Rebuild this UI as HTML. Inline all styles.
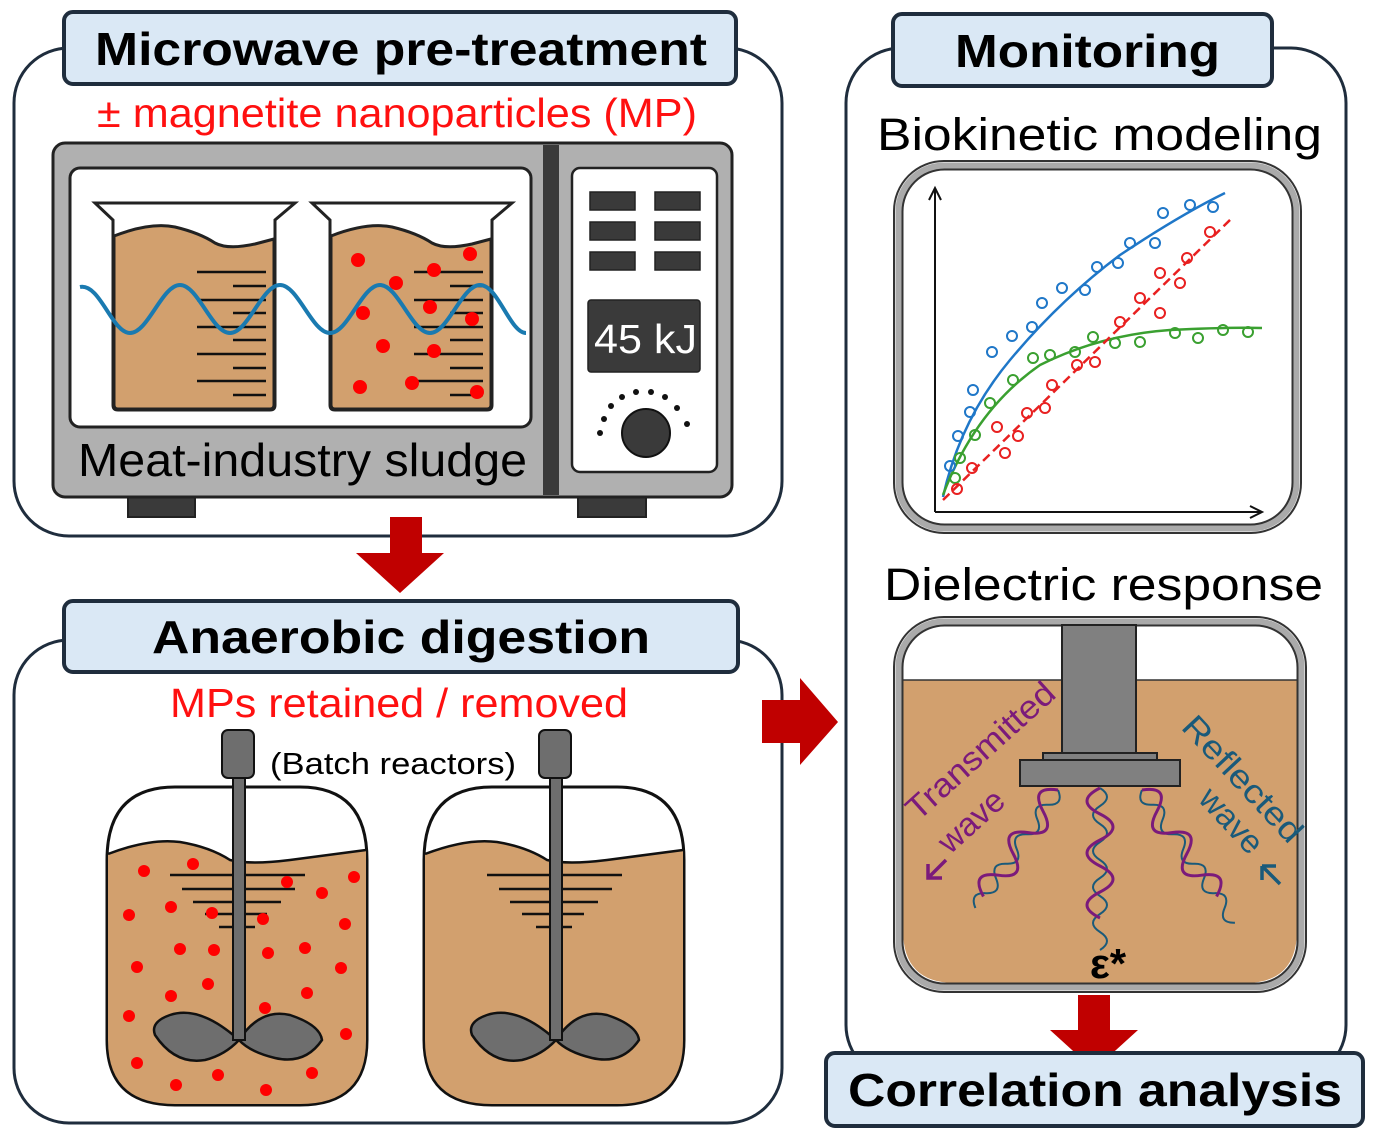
<!DOCTYPE html>
<html><head><meta charset="utf-8"><style>
html,body{margin:0;padding:0;background:#fff}
svg{display:block}
text{font-family:"Liberation Sans",Arial,sans-serif}
</style></head><body>
<svg width="1377" height="1139" viewBox="0 0 1377 1139" xmlns="http://www.w3.org/2000/svg">
<!-- Panel 1 -->
<rect x="14" y="48" width="768" height="488" rx="55" fill="#fff" stroke="#1f2d3d" stroke-width="3"/>
<rect x="64" y="12" width="672" height="72" rx="9" fill="#dae8f5" stroke="#1f2d3d" stroke-width="4"/>
<text x="95" y="65" font-size="46" font-weight="bold" textLength="612" lengthAdjust="spacingAndGlyphs">Microwave pre-treatment</text>
<text x="97" y="127" font-size="41" fill="#ff1010" textLength="600" lengthAdjust="spacingAndGlyphs">± magnetite nanoparticles (MP)</text>
<!-- microwave -->
<rect x="128" y="495" width="67" height="22" fill="#3a3a3a" stroke="#222" stroke-width="2"/>
<rect x="578" y="495" width="68" height="22" fill="#3a3a3a" stroke="#222" stroke-width="2"/>
<rect x="53" y="143" width="679" height="354" rx="12" fill="#b0b0b0" stroke="#222" stroke-width="3"/>
<rect x="70" y="168" width="461" height="259" rx="10" fill="#fff" stroke="#222" stroke-width="3"/>
<rect x="543" y="145" width="16" height="350" fill="#3a3a3a"/>
<rect x="572" y="168" width="145" height="304" rx="8" fill="#fff" stroke="#222" stroke-width="2.5"/>
<g fill="#3a3a3a" stroke="#222" stroke-width="1.5">
<rect x="590" y="192" width="45" height="18"/><rect x="655" y="192" width="45" height="18"/>
<rect x="590" y="222" width="45" height="18"/><rect x="655" y="222" width="45" height="18"/>
<rect x="590" y="252" width="45" height="18"/><rect x="655" y="252" width="45" height="18"/>
<rect x="588" y="300" width="112" height="72" rx="3"/>
</g>
<text x="594" y="353" font-size="41" fill="#fff" textLength="103" lengthAdjust="spacingAndGlyphs">45 kJ</text>
<circle cx="646" cy="433" r="24" fill="#3a3a3a" stroke="#111" stroke-width="2"/>
<g fill="#111">
<circle cx="600" cy="433" r="3"/><circle cx="604" cy="419" r="3"/><circle cx="611" cy="406" r="3"/><circle cx="622" cy="397" r="3"/><circle cx="636" cy="392" r="3"/><circle cx="651" cy="392" r="3"/><circle cx="665" cy="397" r="3"/><circle cx="677" cy="408" r="3"/><circle cx="687" cy="424" r="3"/>
</g>
<text x="78" y="476" font-size="46" textLength="449" lengthAdjust="spacingAndGlyphs">Meat-industry sludge</text>
<!-- beakers -->
<g stroke="#222" stroke-width="3">
<path d="M95 203 L295 203 L275 220 L275 405 Q275 410 270 410 L118 410 Q113 410 113 405 L113 220 Z" fill="#fff"/>
<path d="M114 236 Q150 222 175 227 Q200 233 215 243 Q228 250 255 244 L274 239 L274 405 Q274 409 270 409 L118 409 Q114 409 114 405 Z" fill="#d2a06e"/>
<path d="M312 203 L512 203 L492 220 L492 405 Q492 410 487 410 L335 410 Q330 410 330 405 L330 220 Z" fill="#fff"/>
<path d="M331 236 Q367 222 392 227 Q417 233 432 243 Q445 250 472 244 L491 239 L491 405 Q491 409 487 409 L335 409 Q331 409 331 405 Z" fill="#d2a06e"/>
</g>
<g stroke="#111" stroke-width="2.5">
<line x1="197" y1="272" x2="266" y2="272"/><line x1="233" y1="286" x2="266" y2="286"/><line x1="197" y1="300" x2="266" y2="300"/><line x1="233" y1="313" x2="266" y2="313"/><line x1="197" y1="327" x2="266" y2="327"/><line x1="233" y1="340" x2="266" y2="340"/><line x1="197" y1="354" x2="266" y2="354"/><line x1="233" y1="368" x2="266" y2="368"/><line x1="197" y1="381" x2="266" y2="381"/><line x1="233" y1="395" x2="266" y2="395"/>
<line x1="414" y1="272" x2="483" y2="272"/><line x1="450" y1="286" x2="483" y2="286"/><line x1="414" y1="300" x2="483" y2="300"/><line x1="450" y1="313" x2="483" y2="313"/><line x1="414" y1="327" x2="483" y2="327"/><line x1="450" y1="340" x2="483" y2="340"/><line x1="414" y1="354" x2="483" y2="354"/><line x1="450" y1="368" x2="483" y2="368"/><line x1="414" y1="381" x2="483" y2="381"/><line x1="450" y1="395" x2="483" y2="395"/>
</g>
<g fill="#ff0000">
<circle cx="358" cy="260" r="7"/><circle cx="470" cy="254" r="7"/><circle cx="434" cy="270" r="7"/><circle cx="396" cy="283" r="7"/><circle cx="363" cy="313" r="7"/><circle cx="430" cy="307" r="7"/><circle cx="472" cy="319" r="7"/><circle cx="383" cy="346" r="7"/><circle cx="434" cy="351" r="7"/><circle cx="360" cy="387" r="7"/><circle cx="412" cy="383" r="7"/><circle cx="477" cy="392" r="7"/>
</g>
<path d="M80 287 C100 283 112 333 130 333 S162 285 180 285 S212 333 230 333 S262 285 280 285 S312 333 330 333 S362 285 380 285 S412 333 430 333 S462 285 480 285 S510 333 526 333" fill="none" stroke="#1a7ab0" stroke-width="4"/>
<!-- arrow down 1 -->
<path d="M390 517 H422 V553 H444 L400 593 L356 553 H390 Z" fill="#c00000"/>
<!-- Panel 2 -->
<rect x="14" y="640" width="768" height="483" rx="55" fill="#fff" stroke="#1f2d3d" stroke-width="3"/>
<rect x="64" y="601" width="674" height="71" rx="9" fill="#dae8f5" stroke="#1f2d3d" stroke-width="4"/>
<text x="152" y="653" font-size="46" font-weight="bold" textLength="498" lengthAdjust="spacingAndGlyphs">Anaerobic digestion</text>
<text x="170" y="717" font-size="41" fill="#ff1010" textLength="458" lengthAdjust="spacingAndGlyphs">MPs retained / removed</text>
<text x="270" y="774" font-size="31" textLength="246" lengthAdjust="spacingAndGlyphs">(Batch reactors)</text>
<g id="reactor">
<path d="M107 860 Q107 787 175 787 L300 787 Q367 787 367 860 L367 1040 Q367 1105 300 1105 L175 1105 Q107 1105 107 1040 Z" fill="#fff" stroke="#111" stroke-width="3"/>
<path d="M108 854 Q150 838 180 842 Q210 847 230 860 Q250 865 290 860 L366 850 L366 1040 Q366 1104 300 1104 L175 1104 Q108 1104 108 1040 Z" fill="#d2a06e"/>
<path d="M108 854 Q150 838 180 842 Q210 847 230 860 Q250 865 290 860 L366 850" fill="none" stroke="#111" stroke-width="2.5"/>
<g stroke="#111" stroke-width="2.5"><line x1="170" y1="875" x2="305" y2="875"/><line x1="182" y1="889" x2="295" y2="889"/><line x1="193" y1="902" x2="281" y2="902"/><line x1="205" y1="914" x2="267" y2="914"/><line x1="219" y1="927" x2="255" y2="927"/></g>
<path d="M239 1040 Q200 1005 170 1015 Q150 1022 155 1035 Q175 1065 205 1060 Q225 1055 239 1040 Q260 1008 290 1015 Q320 1025 322 1040 Q305 1065 275 1058 Q250 1052 239 1040 Z" fill="#6e6e6e" stroke="#111" stroke-width="2.5"/>
<rect x="233" y="778" width="12" height="262" fill="#6e6e6e" stroke="#111" stroke-width="2"/>
<rect x="222" y="730" width="32" height="48" rx="6" fill="#6e6e6e" stroke="#111" stroke-width="2"/>
</g>
<g fill="#ff0000">
<circle cx="144" cy="871" r="6"/><circle cx="193" cy="864" r="6"/><circle cx="287" cy="882" r="6"/><circle cx="322" cy="893" r="6"/><circle cx="354" cy="877" r="6"/><circle cx="129" cy="915" r="6"/><circle cx="171" cy="907" r="6"/><circle cx="212" cy="913" r="6"/><circle cx="263" cy="919" r="6"/><circle cx="345" cy="924" r="6"/><circle cx="180" cy="949" r="6"/><circle cx="214" cy="950" r="6"/><circle cx="268" cy="953" r="6"/><circle cx="305" cy="948" r="6"/><circle cx="137" cy="967" r="6"/><circle cx="341" cy="968" r="6"/><circle cx="208" cy="984" r="6"/><circle cx="171" cy="996" r="6"/><circle cx="307" cy="993" r="6"/><circle cx="265" cy="1008" r="6"/><circle cx="129" cy="1016" r="6"/><circle cx="346" cy="1034" r="6"/><circle cx="137" cy="1063" r="6"/><circle cx="218" cy="1075" r="6"/><circle cx="312" cy="1073" r="6"/><circle cx="176" cy="1085" r="6"/><circle cx="266" cy="1090" r="6"/>
</g>
<use href="#reactor" transform="translate(317,0)"/>
<!-- arrow right -->
<path d="M762 700 H800 V678 L838 722 L800 765 V743 H762 Z" fill="#c00000"/>
<!-- Panel 3 -->
<rect x="846" y="48" width="500" height="1032" rx="55" fill="#fff" stroke="#1f2d3d" stroke-width="3"/>
<rect x="893" y="14" width="379" height="72" rx="9" fill="#dae8f5" stroke="#1f2d3d" stroke-width="4"/>
<text x="955" y="67" font-size="46" font-weight="bold" textLength="265" lengthAdjust="spacingAndGlyphs">Monitoring</text>
<text x="877" y="150" font-size="45" textLength="445" lengthAdjust="spacingAndGlyphs">Biokinetic modeling</text>
<rect x="894" y="161" width="407" height="372" rx="50" fill="#fff" stroke="#333" stroke-width="2"/>
<rect x="899" y="166" width="397" height="362" rx="45" fill="none" stroke="#aaa" stroke-width="7"/>
<rect x="902.5" y="169.5" width="390" height="355" rx="42" fill="none" stroke="#333" stroke-width="2"/>
<g stroke="#111" stroke-width="2" fill="none">
<path d="M935 512 V190 M929 200 L935 188 L941 200"/>
<path d="M935 512 H1262 M1250 506 L1262 512 L1250 518"/>
</g>
<path d="M943 497 Q960 420 1010 360 Q1060 300 1120 255 Q1180 215 1225 193" fill="none" stroke="#1f77c8" stroke-width="2.5"/>
<path d="M943 495 Q975 410 1040 365 Q1100 335 1170 330 Q1230 327 1262 328" fill="none" stroke="#3aa030" stroke-width="2.5"/>
<path d="M943 500 L1232 218" fill="none" stroke="#e82020" stroke-width="2.5" stroke-dasharray="9,5"/>
<g fill="none" stroke-width="2">
<g stroke="#1f77c8"><circle cx="950" cy="466" r="5"/><circle cx="958" cy="436" r="5"/><circle cx="970" cy="412" r="5"/><circle cx="973" cy="390" r="5"/><circle cx="992" cy="352" r="5"/><circle cx="1012" cy="336" r="5"/><circle cx="1032" cy="327" r="5"/><circle cx="1042" cy="303" r="5"/><circle cx="1062" cy="288" r="5"/><circle cx="1085" cy="290" r="5"/><circle cx="1097" cy="267" r="5"/><circle cx="1118" cy="263" r="5"/><circle cx="1130" cy="243" r="5"/><circle cx="1155" cy="243" r="5"/><circle cx="1163" cy="213" r="5"/><circle cx="1190" cy="205" r="5"/><circle cx="1213" cy="207" r="5"/></g>
<g stroke="#3aa030"><circle cx="955" cy="478" r="5"/><circle cx="960" cy="458" r="5"/><circle cx="975" cy="435" r="5"/><circle cx="990" cy="403" r="5"/><circle cx="1013" cy="380" r="5"/><circle cx="1033" cy="358" r="5"/><circle cx="1050" cy="355" r="5"/><circle cx="1075" cy="352" r="5"/><circle cx="1093" cy="337" r="5"/><circle cx="1115" cy="343" r="5"/><circle cx="1140" cy="342" r="5"/><circle cx="1175" cy="333" r="5"/><circle cx="1198" cy="338" r="5"/><circle cx="1223" cy="330" r="5"/><circle cx="1248" cy="332" r="5"/></g>
<g stroke="#e82020"><circle cx="957" cy="489" r="5"/><circle cx="972" cy="468" r="5"/><circle cx="997" cy="427" r="5"/><circle cx="1005" cy="453" r="5"/><circle cx="1018" cy="436" r="5"/><circle cx="1027" cy="413" r="5"/><circle cx="1045" cy="408" r="5"/><circle cx="1052" cy="385" r="5"/><circle cx="1077" cy="365" r="5"/><circle cx="1095" cy="362" r="5"/><circle cx="1120" cy="322" r="5"/><circle cx="1140" cy="298" r="5"/><circle cx="1160" cy="273" r="5"/><circle cx="1160" cy="313" r="5"/><circle cx="1180" cy="283" r="5"/><circle cx="1187" cy="258" r="5"/><circle cx="1210" cy="232" r="5"/></g>
</g>
<text x="884" y="600" font-size="45" textLength="439" lengthAdjust="spacingAndGlyphs">Dielectric response</text>
<!-- dielectric box -->
<rect x="894" y="617" width="412" height="375" rx="50" fill="#fff" stroke="#333" stroke-width="2"/>
<path d="M903 680 H1297 V930 Q1297 983 1245 983 H955 Q903 983 903 930 Z" fill="#d2a06e"/>
<line x1="903" y1="680" x2="1297" y2="680" stroke="#333" stroke-width="1.5"/>
<rect x="899" y="622" width="402" height="365" rx="45" fill="none" stroke="#aaa" stroke-width="7"/>
<rect x="902.5" y="625.5" width="395" height="358" rx="42" fill="none" stroke="#333" stroke-width="2"/>
<rect x="1062" y="625" width="74" height="128" fill="#808080" stroke="#222" stroke-width="2"/>
<rect x="1043" y="753" width="114" height="7" fill="#808080" stroke="#222" stroke-width="2"/>
<rect x="1020" y="760" width="160" height="26" fill="#808080" stroke="#222" stroke-width="2"/>
<!-- waves -->
<g fill="none" stroke-width="3">
<g transform="translate(1100,788) rotate(90)">
<path d="M0 0 q9 -14 18 0 t18 0 t18 0 t18 0 t18 0 t18 0 t18 0 t18 0 t18 0" stroke="#1a5a7a" stroke-width="2"/>
<path d="M0 0 q13 26 26 0 t26 0 t26 0 t26 0 t26 0" stroke="#7b1a7b"/>
</g>
<g transform="translate(1058,790) rotate(125)">
<path d="M0 0 q9 -14 18 0 t18 0 t18 0 t18 0 t18 0 t18 0 t18 0 t18 0" stroke="#1a5a7a" stroke-width="2"/>
<path d="M0 0 q13 26 26 0 t26 0 t26 0 t26 0 t26 0" stroke="#7b1a7b"/>
</g>
<g transform="translate(1142,790) rotate(55)">
<path d="M0 0 q9 14 18 0 t18 0 t18 0 t18 0 t18 0 t18 0 t18 0 t18 0 t18 0" stroke="#1a5a7a" stroke-width="2"/>
<path d="M0 0 q13 -26 26 0 t26 0 t26 0 t26 0 t26 0" stroke="#7b1a7b"/>
</g>
</g>
<text transform="translate(918,822) rotate(-42)" font-size="33" fill="#7b1a7b" textLength="188" lengthAdjust="spacingAndGlyphs">Transmitted</text>
<text transform="translate(950,855) rotate(-42)" font-size="33" fill="#7b1a7b">wave</text>
<path d="M946 860 L928 878 M928 864 V878 H942" stroke="#7b1a7b" stroke-width="3.5" fill="none"/>
<text transform="translate(1180,728) rotate(47)" font-size="33" fill="#1a5a7a" textLength="160" lengthAdjust="spacingAndGlyphs">Reflected</text>
<text transform="translate(1197,800) rotate(47)" font-size="33" fill="#1a5a7a">wave</text>
<path d="M1262 866 L1280 884 M1262 866 H1276 M1262 866 V880" stroke="#1a5a7a" stroke-width="3.5" fill="none"/>
<text x="1108" y="978" font-size="42" font-weight="bold" text-anchor="middle">ε*</text>
<!-- arrow down 2 -->
<path d="M1078 995 H1110 V1030 H1138 L1094 1070 L1050 1030 H1078 Z" fill="#c00000"/>
<rect x="826" y="1053" width="537" height="73" rx="9" fill="#dae8f5" stroke="#1f2d3d" stroke-width="4"/>
<text x="848" y="1106" font-size="46" font-weight="bold" textLength="494" lengthAdjust="spacingAndGlyphs">Correlation analysis</text>
</svg>
</body></html>
